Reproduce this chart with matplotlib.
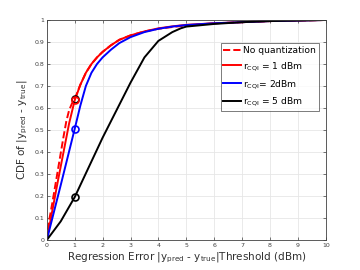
import matplotlib
matplotlib.use("Agg")
import matplotlib.pyplot as plt

x_noquant = [0, 0.05, 0.1, 0.2, 0.3, 0.4, 0.5, 0.6, 0.7, 0.8, 0.9, 1.0, 1.2, 1.4, 1.6, 1.8, 2.0, 2.3, 2.6, 3.0, 3.5, 4.0, 4.5, 5, 6, 7, 8, 10]
cdf_noquant = [0, 0.06, 0.10, 0.17, 0.245, 0.32, 0.395, 0.47, 0.54, 0.59, 0.62, 0.64, 0.705, 0.76, 0.80, 0.83, 0.855, 0.885, 0.91, 0.93, 0.948, 0.96, 0.968, 0.975, 0.985, 0.99, 0.995, 1.0]
x_r1 = [0, 0.2, 0.4, 0.6, 0.8, 1.0, 1.2, 1.4, 1.6, 1.8, 2.0, 2.3, 2.6, 3.0, 3.5, 4.0, 4.5, 5, 6, 7, 8, 10]
cdf_r1 = [0, 0.135, 0.27, 0.40, 0.53, 0.635, 0.705, 0.76, 0.80, 0.83, 0.855, 0.885, 0.91, 0.93, 0.948, 0.962, 0.971, 0.978, 0.985, 0.99, 0.995, 1.0]
x_r2 = [0, 0.5, 1.0, 1.2, 1.4, 1.6, 1.8, 2.0, 2.3, 2.6, 3.0, 3.5, 4.0, 4.5, 5, 6, 7, 8, 10]
cdf_r2 = [0, 0.25, 0.505, 0.61, 0.70, 0.76, 0.80, 0.83, 0.865, 0.895, 0.922, 0.945, 0.96, 0.97, 0.977, 0.985, 0.99, 0.995, 1.0]
x_r5 = [0, 0.5, 1, 1.5, 2, 2.5, 3, 3.5, 4, 4.5, 4.8, 5, 6, 7, 8, 10]
cdf_r5 = [0, 0.085, 0.195, 0.33, 0.465, 0.59, 0.715, 0.83, 0.905, 0.945, 0.962, 0.97, 0.982, 0.99, 0.995, 1.0]

marker_x = 1
marker_noquant = 0.64
marker_r1 = 0.635
marker_r2 = 0.505
marker_r5 = 0.195

labels = ["No quantization", r"r$_{\mathregular{CQI}}$ = 1 dBm", r"r$_{\mathregular{CQI}}$= 2dBm", r"r$_{\mathregular{CQI}}$ = 5 dBm"]

fig = plt.figure(figsize=(3.6, 2.7), dpi=100)
ax = fig.add_axes([0.13, 0.111, 0.775, 0.815])

lw = 1.4
ax.plot(x_noquant, cdf_noquant, 'r--', lw=lw, label=labels[0])
ax.plot(x_r1, cdf_r1, color='red', lw=lw, label=labels[1])
ax.plot(x_r2, cdf_r2, color='blue', lw=lw, label=labels[2])
ax.plot(x_r5, cdf_r5, color='black', lw=lw, label=labels[3])

ax.plot([marker_x], [marker_noquant], 'o', mfc='none', mec='black', ms=5, mew=1.2)
ax.plot([marker_x], [marker_r1], 'o', mfc='none', mec='red', ms=5, mew=1.2)
ax.plot([marker_x], [marker_r2], 'o', mfc='none', mec='blue', ms=5, mew=1.2)
ax.plot([marker_x], [marker_r5], 'o', mfc='none', mec='black', ms=5, mew=1.2)

ax.set_xlim(0, 10)
ax.set_ylim(0, 1)
ax.set_xticks(range(0, 11))
ax.set_yticks([i / 10 for i in range(11)])
ax.set_yticklabels(['0'] + [f'{i/10:g}' for i in range(1, 10)] + ['1'])
ax.grid(True, color='#e6e6e6', lw=0.6)
ax.set_axisbelow(True)
ax.tick_params(labelsize=4.5, colors='#404040', direction='in', length=2, width=0.5, top=True, right=True, pad=2)
for s in ax.spines.values():
    s.set_color('#404040')
    s.set_linewidth(0.6)

ax.set_xlabel(r"Regression Error |y$_{\mathregular{pred}}$ - y$_{\mathregular{true}}$|Threshold (dBm)", fontsize=7.5, color='#303030', labelpad=2)
ax.set_ylabel(r"CDF of |y$_{\mathregular{pred}}$ - y$_{\mathregular{true}}$|", fontsize=7.5, color='#303030', labelpad=3)

leg = ax.legend(loc='upper right', bbox_to_anchor=(0.975, 0.895), fontsize=6.6, frameon=True, fancybox=False,
                edgecolor='#404040', handlelength=1.9, handletextpad=0.25, borderpad=0.3, labelspacing=0.55,
                borderaxespad=0)
leg.get_frame().set_linewidth(0.6)

fig.savefig("out.png", dpi=100)
